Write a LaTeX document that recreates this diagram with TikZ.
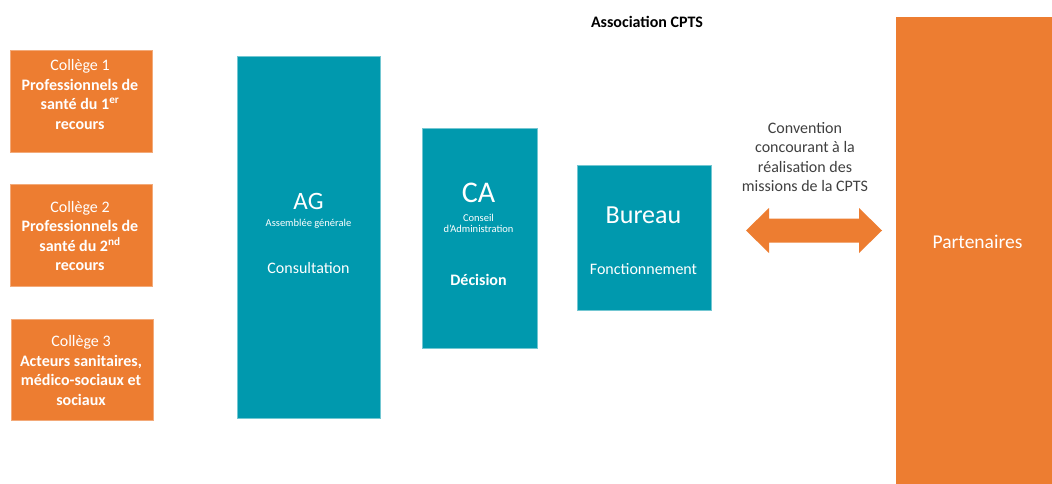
\documentclass[tikz,border=0pt]{standalone}
\usepackage{fontspec}
\setmainfont{Carlito}
\definecolor{orng}{HTML}{ED7D31}
\definecolor{tealbox}{HTML}{0099AE}
\definecolor{txtgray}{HTML}{404040}
\newcommand{\mlines}[1]{\begin{tabular}[t]{@{}c@{}}#1\end{tabular}}
\begin{document}
\begin{tikzpicture}[x=1pt,y=-1pt,
  obox/.style={fill=orng, draw=orng!65!white, line width=0.5pt, inner sep=0pt, anchor=north west},
  tbox/.style={fill=tealbox, draw=tealbox!55!white, line width=0.5pt, inner sep=0pt, anchor=north west},
  lbl/.style={inner sep=0pt, anchor=base, text=white},
  f16/.style={font=\fontsize{16}{19.5}\selectfont},
  f16b/.style={font=\fontsize{16}{19.5}\selectfont\bfseries},
]
\useasboundingbox (0,0) rectangle (1052,484);
\fill[white] (0,0) rectangle (1052,484);

% title
\node[lbl, f16b, text=black] (title) at (647,28) {Association CPTS};

% colleges
\node[obox, minimum width=142pt, minimum height=102pt] (c1) at (10,50) {};
\node[obox, minimum width=142pt, minimum height=102pt] (c2) at (10,184) {};
\node[obox, minimum width=142pt, minimum height=101pt] (c3) at (11,319) {};
\node[lbl, f16] (c1t) at (80,71) {\mlines{Collège 1\\ \textbf{Professionnels de}\\ \textbf{santé du 1\textsuperscript{er}}\\ \textbf{recours}}};
\node[lbl, f16] (c2t) at (80,212) {\mlines{Collège 2\\ \textbf{Professionnels de}\\ \textbf{santé du 2\textsuperscript{nd}}\\ \textbf{recours}}};
\node[lbl, f16] (c3t) at (81,346.5) {\mlines{Collège 3\\ \textbf{Acteurs sanitaires,}\\ \textbf{médico-sociaux et}\\ \textbf{sociaux}}};

% AG
\node[tbox, minimum width=143pt, minimum height=362pt] (ag) at (237,56) {};
\node[lbl, font=\fontsize{25}{30}\selectfont] (agt) at (308.5,209.5) {AG};
\node[lbl, font=\fontsize{10.5}{12}\selectfont] (ags) at (308.5,226.5) {Assemblée générale};
\node[lbl, f16] (agc) at (308.5,273) {Consultation};

% CA
\node[tbox, minimum width=115pt, minimum height=220pt] (ca) at (422,128) {};
\node[lbl, font=\fontsize{30}{36}\selectfont] (cat) at (478.5,202.5) {CA};
\node[lbl, font=\fontsize{10.5}{10.7}\selectfont] (cas) at (478.5,221.5) {\mlines{Conseil\\ d'Administration}};
\node[lbl, f16b] (cad) at (478.5,285.5) {Décision};

% Bureau
\node[tbox, minimum width=134pt, minimum height=145pt] (bu) at (577,165) {};
\node[lbl, font=\fontsize{26}{31}\selectfont] (but) at (643.5,223.3) {Bureau};
\node[lbl, f16] (buf) at (643.5,274) {Fonctionnement};

% Partenaires
\node[obox, draw=none, minimum width=160pt, minimum height=470pt] (pa) at (896,17) {};
\node[lbl, font=\fontsize{19.5}{23}\selectfont] (pat) at (977.5,248.3) {Partenaires};

% convention
\node[lbl, f16, text=txtgray] (conv) at (805,133.3) {\mlines{Convention\\ concourant à la\\ réalisation des\\ missions de la CPTS}};
\coordinate (al) at (746,230.5);
\coordinate (ar) at (882,230.5);
\fill[orng] (al) -- (769,208) -- (769,218.5) -- (859,218.5) -- (859,208) -- (ar)
  -- (859,253) -- (859,242.5) -- (769,242.5) -- (769,253) -- cycle;
\end{tikzpicture}
\end{document}
